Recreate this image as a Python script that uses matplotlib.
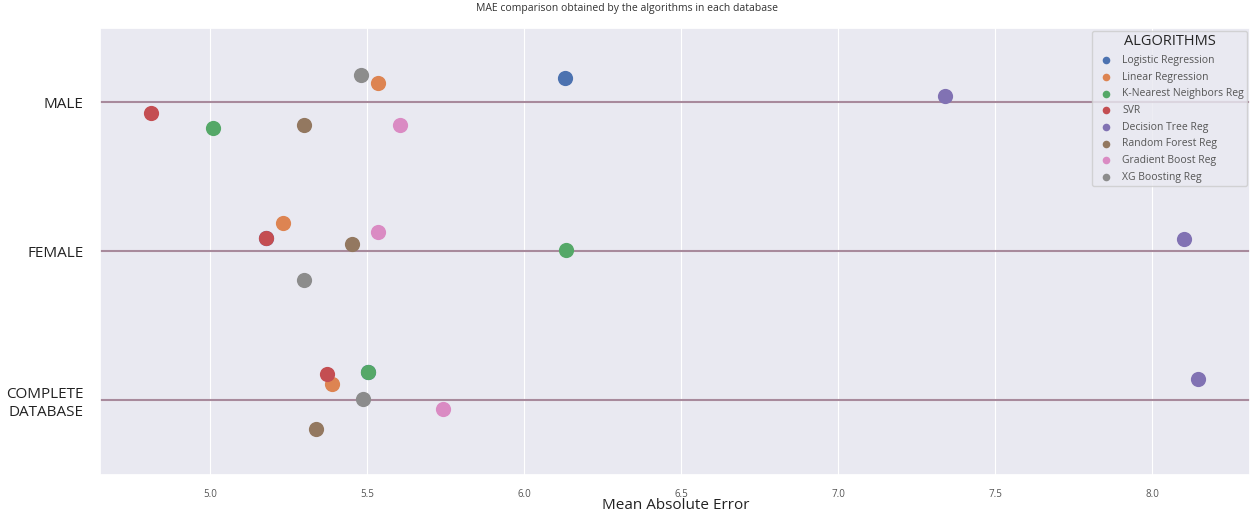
import matplotlib.pyplot as plt
import seaborn as sns

# MAE por algoritmo em cada base de dados
bases = ['MALE', 'FEMALE', 'COMPLETE\nDATABASE']
algoritmos = ['Logistic Regression', 'Linear Regression', 'K-Nearest Neighbors Reg', 'SVR',
              'Decision Tree Reg', 'Random Forest Reg', 'Gradient Boost Reg', 'XG Boosting Reg']

mae_male = [6.13, 5.535, 5.01, 4.81, 7.34, 5.30, 5.605, 5.48]
mae_female = [5.178, 5.232, 6.134, 5.178, 8.10, 5.452, 5.535, 5.30]
mae_complete = [5.503, 5.389, 5.503, 5.373, 8.146, 5.338, 5.742, 5.487]

# deslocamento vertical (jitter) de cada ponto
jitter_male = [-0.16, -0.13, 0.17, 0.07, -0.04, 0.15, 0.15, -0.18]
jitter_female = [-0.09, -0.19, -0.01, -0.09, -0.08, -0.05, -0.13, 0.19]
jitter_complete = [-0.19, -0.11, -0.19, -0.18, -0.14, 0.19, 0.06, -0.01]

sns.set_theme(style='darkgrid', rc={'axes.facecolor': '#e9e9f1', 'grid.linewidth': 0.8})
plt.rcParams['font.family'] = ['Open Sans', 'DejaVu Sans']

cores = sns.color_palette('deep', len(algoritmos))
valores = [mae_male, mae_female, mae_complete]
jitters = [jitter_male, jitter_female, jitter_complete]

fig, ax = plt.subplots(figsize=(12.54, 5.15), dpi=100)
fig.subplots_adjust(left=0.08, right=0.997, top=0.946, bottom=0.078)

for i in range(len(bases)):
    ax.axhline(i, color='#a88a9c', linewidth=1.5, zorder=1)

for j, alg in enumerate(algoritmos):
    xs = [valores[i][j] for i in range(len(bases))]
    ys = [i + jitters[i][j] for i in range(len(bases))]
    ax.scatter(xs, ys, s=120, color=cores[j], linewidth=0, label=alg, zorder=3)

ax.set_yticks(range(len(bases)))
ax.set_yticklabels(bases, fontsize=11, color='#222222')
ax.set_ylim(2.5, -0.5)
ax.set_xlim(4.65, 8.312)
ax.set_xticks([5.0, 5.5, 6.0, 6.5, 7.0, 7.5, 8.0])
ax.tick_params(axis='x', labelsize=7, colors='#555555', pad=4)
ax.tick_params(axis='y', length=0, pad=12)
ax.set_xlabel('Mean Absolute Error', fontsize=11, color='#222222', labelpad=-1)

fig.suptitle('MAE comparison obtained by the algorithms in each database', fontsize=7.5,
             color='#333333', y=0.995)

leg = ax.legend(title='ALGORITHMS', loc='upper right', fontsize=7.5, title_fontsize=10.5,
                markerscale=0.5, labelspacing=0.55, handletextpad=0.6, borderaxespad=0.3,
                borderpad=0.3, frameon=True)
for t in leg.get_texts():
    t.set_color('#555555')

plt.savefig('out.png', dpi=100)
